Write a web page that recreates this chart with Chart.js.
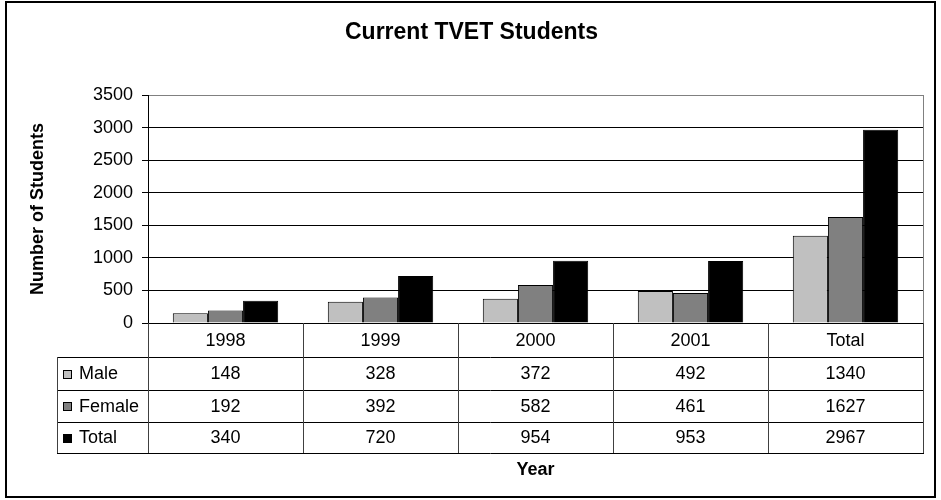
<!DOCTYPE html>
<html lang="en">
<head>
    <meta charset="UTF-8">
    <title>Current TVET Students</title>
    <script src="https://cdn.jsdelivr.net/npm/chart.js"></script>
    <style>
        html, body { margin: 0; padding: 0; background: white; }
        .chart-container { width: 941px; height: 500px; position: relative; }
    </style>
</head>
<body>
    <div class="chart-container">
        <canvas id="tvetChart"></canvas>
    </div>

    <script>
        // Data
        var categories = ['1998', '1999', '2000', '2001', 'Total'];
        var seriesNames = ['Male', 'Female', 'Total'];
        var maleValues = [148, 328, 372, 492, 1340];
        var femaleValues = [192, 392, 582, 461, 1627];
        var totalValues = [340, 720, 954, 953, 2967];
        var seriesColors = ['#c0c0c0', '#808080', '#000000'];

        var FONT = '"Liberation Sans", Arial, sans-serif';

        // draws the white page, outer frame, plot border and the data table
        var tablePlugin = {
            id: 'dataTable',
            beforeDraw: function(chart) {
                var c = chart.ctx;
                c.save();
                c.fillStyle = '#fff';
                c.fillRect(0, 0, chart.width, chart.height);
                c.strokeStyle = '#000';
                c.lineWidth = 2;
                c.strokeRect(6, 2, 929, 495);
                c.restore();
            },
            afterDraw: function(chart) {
                var c = chart.ctx;
                var area = chart.chartArea;
                var x = chart.scales.x;
                var step = (area.right - area.left) / categories.length;
                var legendLeft = 57;
                var rowTops = [area.bottom, area.bottom + 34, area.bottom + 67, area.bottom + 99, area.bottom + 130];
                var rows = [maleValues, femaleValues, totalValues];

                c.save();
                c.lineWidth = 1;

                // right plot border (gray)
                c.strokeStyle = '#808080';
                c.beginPath();
                c.moveTo(Math.round(area.right) + 0.5, area.top);
                c.lineTo(Math.round(area.right) + 0.5, area.bottom);
                c.stroke();

                // horizontal table lines
                c.strokeStyle = '#000';
                c.beginPath();
                for (var r = 1; r < rowTops.length; r++) {
                    var yy = Math.round(rowTops[r]) + 0.5;
                    c.moveTo(legendLeft, yy);
                    c.lineTo(area.right + 1, yy);
                }
                c.stroke();

                // vertical table lines
                c.strokeStyle = '#404040';
                c.beginPath();
                for (var i = 0; i <= categories.length; i++) {
                    var xx = Math.round(area.left + i * step) + 0.5;
                    c.moveTo(xx, area.bottom);
                    c.lineTo(xx, rowTops[4]);
                }
                c.moveTo(legendLeft + 0.5, rowTops[1]);
                c.lineTo(legendLeft + 0.5, rowTops[4]);
                c.stroke();

                // category labels and values
                c.fillStyle = '#000';
                c.font = '18px ' + FONT;
                c.textAlign = 'center';
                c.textBaseline = 'middle';
                categories.forEach(function(cat, i) {
                    var cx = x.getPixelForValue(i);
                    c.fillText(cat, cx, (rowTops[0] + rowTops[1]) / 2 + 1);
                    rows.forEach(function(vals, r) {
                        c.fillText(String(vals[i]), cx, (rowTops[r + 1] + rowTops[r + 2]) / 2 + 1);
                    });
                });

                // legend keys
                c.textAlign = 'left';
                seriesNames.forEach(function(name, r) {
                    var cy = (rowTops[r + 1] + rowTops[r + 2]) / 2;
                    c.fillStyle = seriesColors[r];
                    c.fillRect(63, Math.round(cy) - 4, 9, 9);
                    c.strokeStyle = '#000';
                    c.strokeRect(63.5, Math.round(cy) - 3.5, 8, 8);
                    c.fillStyle = '#000';
                    c.fillText(name, 79, cy + 1);
                });

                // x axis title
                c.font = 'bold 18px ' + FONT;
                c.textAlign = 'center';
                c.fillText('Year', (area.left + area.right) / 2, 470);
                c.restore();
            }
        };

        var ctx = document.getElementById('tvetChart').getContext('2d');

        new Chart(ctx, {
            type: 'bar',
            data: {
                labels: categories,
                datasets: [{
                    label: seriesNames[0],
                    data: maleValues,
                    backgroundColor: seriesColors[0]
                }, {
                    label: seriesNames[1],
                    data: femaleValues,
                    backgroundColor: seriesColors[1]
                }, {
                    label: seriesNames[2],
                    data: totalValues,
                    backgroundColor: seriesColors[2]
                }]
            },
            options: {
                responsive: true,
                maintainAspectRatio: false,
                animation: false,
                layout: {
                    padding: { left: 20, right: 18, top: 0, bottom: 177 }
                },
                datasets: {
                    bar: {
                        borderColor: '#000',
                        borderWidth: 1,
                        barPercentage: 1,
                        categoryPercentage: 0.68
                    }
                },
                plugins: {
                    legend: { display: false },
                    tooltip: { enabled: false },
                    title: {
                        display: true,
                        text: 'Current TVET Students',
                        color: '#000',
                        font: { family: FONT, size: 23, weight: 'bold' },
                        padding: { top: 19, bottom: 48.4 }
                    }
                },
                scales: {
                    x: {
                        display: false
                    },
                    y: {
                        min: 0,
                        max: 3500,
                        afterFit: function(scale) {
                            scale.width = 128;
                        },
                        ticks: {
                            stepSize: 500,
                            color: '#000',
                            padding: 9,
                            font: { family: FONT, size: 18 },
                            callback: function(value) {
                                return String(value);
                            }
                        },
                        grid: {
                            color: function(c) {
                                return c.tick && c.tick.value === 3500 ? '#808080' : '#000';
                            },
                            tickLength: 6,
                            tickColor: '#000'
                        },
                        border: { color: '#000' },
                        title: {
                            display: true,
                            text: 'Number of Students',
                            color: '#000',
                            font: { family: FONT, size: 18, weight: 'bold' },
                            padding: { top: 7, bottom: 0 }
                        }
                    }
                }
            },
            plugins: [tablePlugin]
        });
    </script>
</body>
</html>
